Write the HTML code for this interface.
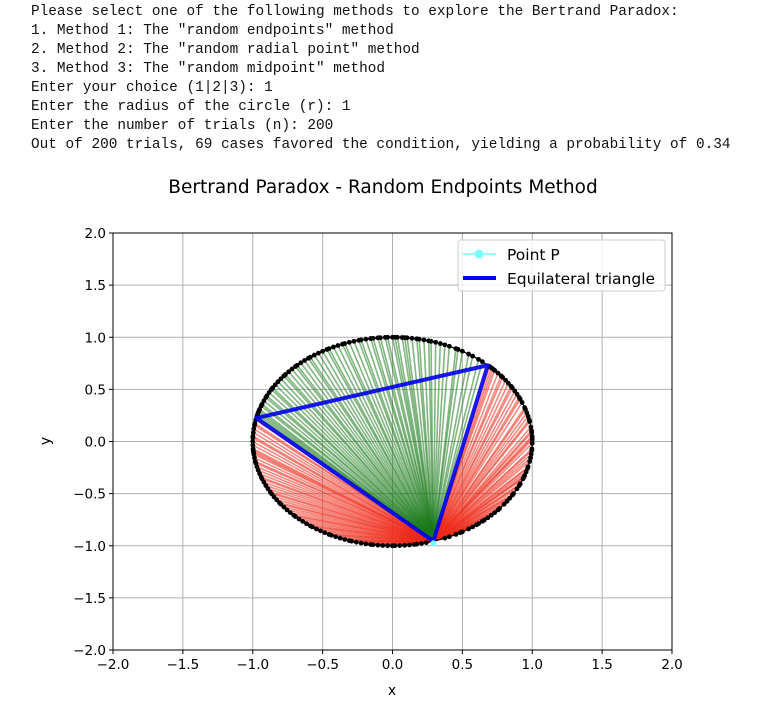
<!DOCTYPE html>
<html><head><meta charset="utf-8"><style>
body{margin:0;width:781px;height:710px;background:#fff;overflow:hidden}
#out{position:absolute;left:31px;top:3px;font-family:"Liberation Mono",monospace;font-size:14.4px;line-height:19px;white-space:pre;color:#111}
svg{position:absolute;left:0;top:0}
text{font-family:"DejaVu Sans","Liberation Sans",sans-serif}
</style></head><body>
<div id="out">Please select one of the following methods to explore the Bertrand Paradox:
1. Method 1: The "random endpoints" method
2. Method 2: The "random radial point" method
3. Method 3: The "random midpoint" method
Enter your choice (1|2|3): 1
Enter the radius of the circle (r): 1
Enter the number of trials (n): 200
Out of 200 trials, 69 cases favored the condition, yielding a probability of 0.34</div>
<svg id="chart" width="781" height="710"></svg>
<script>
const ticks=[-2.0,-1.5,-1.0,-0.5,0.0,0.5,1.0,1.5,2.0];
const pAngle=-73;
const greenAngles=[50,52,55,57,60,62,63,66,68,70,72,74,75,77,79,80,82,84,85,86,88,89,90,92,93,95,96,98,99,101,103,104,106,108,110,111,113,115,117,118,120,122,124,126,127,129,131,133,134,136,138,140,141,143,145,147,149,150,152,154,155,157,159,160,162,163,164,165,166];
const redAngles=[-68,-66,-63,-61,-60,-57,-55,-53,-52,-49,-47,-45,-43,-41,-40,-37,-35,-33,-31,-30,-27,-25,-24,-21,-19,-17,-15,-14,-11,-9,-7,-5,-4,-1,1,3,5,6,8,11,12,14,16,18,19,22,24,25,27,29,31,32,34,36,38,39,41,43,44,46,45,2,-20,-50,168,170,171,173,175,177,178,180,182,184,185,187,189,191,192,194,196,198,200,201,203,205,207,209,210,212,214,216,217,219,221,223,225,226,228,230,232,234,235,237,239,241,243,244,246,248,250,252,253,255,257,259,261,262,264,266,268,270,271,273,275,277,279,280,282,284,186];
const X0=113,X1=672,Y0=650,Y1=233;
const sx=v=>X0+(v+2)/4*(X1-X0), sy=v=>Y0-(v+2)/4*(Y0-Y1);
const svg=document.getElementById('chart');const NS='http://www.w3.org/2000/svg';
function mk(t,a,p){const e=document.createElementNS(NS,t);for(const k in a)e.setAttribute(k,a[k]);(p||svg).appendChild(e);return e;}
const rad=d=>d*Math.PI/180;
ticks.forEach(t=>{
 let g=mk('line',{x1:sx(t),x2:sx(t),y1:Y1,y2:Y0,stroke:'#b0b0b0','stroke-width':1});
 
 
 let h=mk('line',{x1:X0,x2:X1,y1:sy(t),y2:sy(t),stroke:'#b0b0b0','stroke-width':1});
 
 
 let tx=mk('line',{x1:sx(t),x2:sx(t),y1:Y0,y2:Y0+4,stroke:'#000'});
 
 
 let ty=mk('line',{x1:X0-4,x2:X0,y1:sy(t),y2:sy(t),stroke:'#000'});
 
 
 let lx=mk('text',{x:sx(t),y:Y0+19,'text-anchor':'middle','font-size':13.5});lx.textContent=t.toFixed(1).replace('-','\u2212');
 
 
 let ly=mk('text',{x:X0-7,y:sy(t)+5,'text-anchor':'end','font-size':13.5});ly.textContent=t.toFixed(1).replace('-','\u2212');
 
 
});
const px=Math.cos(rad(pAngle)),py=Math.sin(rad(pAngle));
function chord(a,col,name){
 const l=mk('line',{x1:sx(px),y1:sy(py),x2:sx(Math.cos(rad(a))),y2:sy(Math.sin(rad(a))),stroke:col,'stroke-opacity':0.55,'stroke-width':1.6});
 
 
}
redAngles.forEach(a=>chord(a,'#ee2a1a','red-chord'));
greenAngles.forEach(a=>chord(a,'#1a7a1a','green-chord'));
const c=mk('ellipse',{cx:sx(0),cy:sy(0),rx:sx(1)-sx(0),ry:sy(0)-sy(1),fill:'none',stroke:'#000','stroke-width':1.3});


greenAngles.concat(redAngles).forEach(a=>{
 const d=mk('circle',{cx:sx(Math.cos(rad(a))),cy:sy(Math.sin(rad(a))),r:2.4,fill:'#000'});
 
 
});
const tri=[pAngle,pAngle+120,pAngle+240,pAngle].map(a=>sx(Math.cos(rad(a)))+','+sy(Math.sin(rad(a)))).join(' ');
const t=mk('polyline',{points:tri,fill:'none',stroke:'#0000ee','stroke-width':4,'stroke-linejoin':'round','stroke-opacity':0.9});


const p=mk('circle',{cx:sx(px),cy:sy(py)+2,r:3,fill:'#7ff'});


const f=mk('rect',{x:X0,y:Y1,width:X1-X0,height:Y0-Y1,fill:'none',stroke:'#000','stroke-width':1});


const ti=mk('text',{x:383,y:193,'text-anchor':'middle','font-size':18.5});ti.textContent='Bertrand Paradox - Random Endpoints Method';


const xl=mk('text',{x:392,y:695,'text-anchor':'middle','font-size':14});xl.textContent='x';


const yl=mk('text',{x:0,y:0,'text-anchor':'middle','font-size':14,transform:'translate(50,441) rotate(-90)'});yl.textContent='y';


const lg=mk('g',{});


mk('rect',{x:458,y:240,width:207,height:51,rx:3,fill:'#fff','fill-opacity':0.8,stroke:'#ccc'},lg);
mk('line',{x1:463,x2:496,y1:254,y2:254,stroke:'#7ff','stroke-width':1.5},lg);
mk('circle',{cx:479,cy:254,r:4.5,fill:'#7ff'},lg);
mk('line',{x1:463,x2:496,y1:278,y2:278,stroke:'#0000ee','stroke-width':4},lg);
const e1=mk('text',{x:507,y:260,'font-size':15.5},lg);e1.textContent='Point P';


const e2=mk('text',{x:507,y:284,'font-size':15.5},lg);e2.textContent='Equilateral triangle';


</script>
</body></html>
